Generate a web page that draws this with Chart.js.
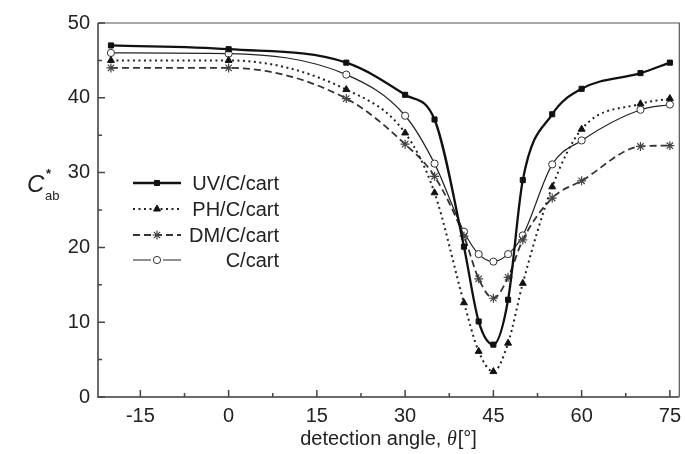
<!DOCTYPE html>
<html>
<head>
<meta charset="utf-8">
<script src="https://cdn.jsdelivr.net/npm/chart.js@4.4.1/dist/chart.umd.min.js"></script>
<style>
  html, body { margin: 0; padding: 0; background: #fff; }
  #wrap { width: 685px; height: 454px; }
</style>
</head>
<body>
<div id="wrap"><canvas id="chart" width="685" height="454"></canvas></div>
<script>
// detection angles (deg) shared by all four series
const angles = [-20, 0, 20, 30, 35, 40, 42.5, 45, 47.5, 50, 55, 60, 70, 75];

// C*ab values
const uvValues = [47.0, 46.5, 44.7, 40.4, 37.1, 20.1, 10.1, 7.0, 13.0, 29.0, 37.8, 41.2, 43.3, 44.7];
const phValues = [45.0, 45.0, 41.1, 35.3, 27.3, 12.6, 6.1, 3.4, 7.2, 15.2, 28.1, 35.8, 39.2, 39.9];
const dmValues = [44.0, 44.0, 39.9, 33.8, 29.5, 21.5, 15.8, 13.2, 16.0, 21.0, 26.6, 28.9, 33.5, 33.6];
const cValues  = [46.0, 45.9, 43.1, 37.6, 31.2, 22.1, 19.1, 18.1, 19.1, 21.6, 31.1, 34.3, 38.4, 39.1];

const seriesNames = ['UV/C/cart', 'PH/C/cart', 'DM/C/cart', 'C/cart'];

const xTicks = [-15, 0, 15, 30, 45, 60, 75];
const xMinorTicks = [-7.5, 7.5, 22.5, 37.5, 52.5, 67.5];
const yTicks = [0, 10, 20, 30, 40, 50];
const yMinorTicks = [5, 15, 25, 35, 45];

const FONT = '"Liberation Sans", Arial, sans-serif';

const toPoints = (vals) => angles.map((a, i) => ({ x: a, y: vals[i] }));

// frame + inward ticks + axis titles
const framePlugin = {
    id: 'frame',
    afterDraw(chart) {
        const ctx = chart.ctx;
        const { left, right, top, bottom } = chart.chartArea;
        const xs = chart.scales.x, ys = chart.scales.y;
        ctx.save();

        // top and right frame
        ctx.strokeStyle = '#555';
        ctx.lineWidth = 1.2;
        ctx.beginPath();
        ctx.moveTo(left, top); ctx.lineTo(right, top); ctx.lineTo(right, bottom);
        ctx.stroke();

        // left and bottom axes
        ctx.strokeStyle = '#6a6a6a';
        ctx.lineWidth = 2;
        ctx.beginPath();
        ctx.moveTo(left, top); ctx.lineTo(left, bottom); ctx.lineTo(right, bottom);
        ctx.stroke();

        ctx.lineWidth = 1.5;
        ctx.strokeStyle = '#444';
        ctx.beginPath();
        xTicks.forEach(v => { const p = xs.getPixelForValue(v); ctx.moveTo(p, bottom); ctx.lineTo(p, bottom - 7); });
        xMinorTicks.forEach(v => { const p = xs.getPixelForValue(v); ctx.moveTo(p, bottom); ctx.lineTo(p, bottom - 4); });
        yTicks.forEach(v => { const p = ys.getPixelForValue(v); ctx.moveTo(left, p); ctx.lineTo(left + 7, p); });
        yMinorTicks.forEach(v => { const p = ys.getPixelForValue(v); ctx.moveTo(left, p); ctx.lineTo(left + 4, p); });
        ctx.stroke();

        // x title: detection angle, θ[°]
        ctx.fillStyle = '#222';
        ctx.textBaseline = 'alphabetic';
        const part1 = 'detection angle, ';
        const part2 = 'θ';
        const part3 = '[°]';
        const serif = 'italic 20px "Liberation Serif", "Times New Roman", serif';
        ctx.font = '20px ' + FONT;
        const w1 = ctx.measureText(part1).width;
        const w3 = ctx.measureText(part3).width;
        ctx.font = serif;
        const w2 = ctx.measureText(part2).width;
        const x0 = 388 - (w1 + w2 + w3) / 2;
        const yb = 445;
        ctx.font = '20px ' + FONT;
        ctx.fillText(part1, x0, yb);
        ctx.font = serif;
        ctx.fillText(part2, x0 + w1, yb);
        ctx.font = '20px ' + FONT;
        ctx.fillText(part3, x0 + w1 + w2 + 1, yb);

        // y title: C*ab
        ctx.font = 'italic 24px ' + FONT;
        ctx.fillText('C', 27, 192);
        ctx.font = 'bold 13px ' + FONT;
        ctx.fillText('*', 46, 178);
        ctx.font = '13px ' + FONT;
        ctx.fillText('ab', 45, 200);

        ctx.restore();
    }
};

// in-plot legend: line sample with marker, right aligned labels
const legendPlugin = {
    id: 'inLegend',
    afterDatasetsDraw(chart) {
        const ctx = chart.ctx;
        const rows = [183, 209, 235, 260];
        ctx.save();
        chart.data.datasets.forEach((ds, i) => {
            const y = rows[i];
            ctx.strokeStyle = ds.borderColor;
            ctx.lineWidth = ds.borderWidth;
            ctx.setLineDash(ds.borderDash || []);
            ctx.beginPath();
            ctx.moveTo(133, y); ctx.lineTo(181, y);
            ctx.stroke();
            ctx.setLineDash([]);
            if (ds.pointStyle === 'circle') {
                ctx.fillStyle = '#fff';
                ctx.fillRect(151, y - 4, 12, 8);
            }
            ctx.fillStyle = ds.pointBackgroundColor;
            ctx.strokeStyle = ds.pointBorderColor;
            ctx.lineWidth = ds.pointBorderWidth;
            Chart.helpers.drawPoint(ctx, {
                pointStyle: ds.pointStyle,
                radius: ds.pointRadius,
                borderWidth: ds.pointBorderWidth,
                rotation: 0
            }, 157, y);
            ctx.fillStyle = '#222';
            ctx.font = '20px ' + FONT;
            ctx.textAlign = 'right';
            ctx.textBaseline = 'middle';
            ctx.fillText(ds.label, 279, y + 1);
        });
        ctx.restore();
    }
};

new Chart(document.getElementById('chart'), {
    type: 'line',
    data: {
        datasets: [
            {
                label: seriesNames[0],
                data: toPoints(uvValues),
                borderColor: '#111',
                borderWidth: 2.3,
                pointStyle: 'rect',
                pointRadius: 3.6,
                pointBackgroundColor: '#111',
                pointBorderColor: '#111',
                pointBorderWidth: 1
            },
            {
                label: seriesNames[1],
                data: toPoints(phValues),
                borderColor: '#222',
                borderWidth: 2,
                borderDash: [2, 3.5],
                pointStyle: 'triangle',
                pointRadius: 4,
                pointBackgroundColor: '#111',
                pointBorderColor: '#111',
                pointBorderWidth: 1
            },
            {
                label: seriesNames[2],
                data: toPoints(dmValues),
                borderColor: '#333',
                borderWidth: 1.8,
                borderDash: [7, 4],
                pointStyle: 'star',
                pointRadius: 4.5,
                pointBackgroundColor: '#444',
                pointBorderColor: '#444',
                pointBorderWidth: 1.2
            },
            {
                label: seriesNames[3],
                data: toPoints(cValues),
                borderColor: '#222',
                borderWidth: 1.2,
                pointStyle: 'circle',
                pointRadius: 3.6,
                pointBackgroundColor: '#fff',
                pointBorderColor: '#333',
                pointBorderWidth: 1
            }
        ]
    },
    options: {
        responsive: false,
        devicePixelRatio: 1,
        animation: false,
        cubicInterpolationMode: 'monotone',
        layout: { padding: { top: 23, right: 2, left: 0, bottom: 0 } },
        plugins: {
            legend: { display: false },
            tooltip: { enabled: false }
        },
        scales: {
            x: {
                type: 'linear',
                min: -22.2,
                max: 76.6,
                grid: { display: false, drawTicks: false },
                border: { display: false },
                afterBuildTicks: (scale) => { scale.ticks = xTicks.map(v => ({ value: v })); },
                afterFit: (scale) => {
                    scale.height = 57;
                    scale.paddingLeft = 0;
                    scale.paddingRight = 0;
                },
                ticks: {
                    padding: 7,
                    color: '#222',
                    font: { family: FONT, size: 20 },
                    maxRotation: 0
                }
            },
            y: {
                min: 0,
                max: 50,
                grid: { display: false, drawTicks: false },
                border: { display: false },
                afterBuildTicks: (scale) => { scale.ticks = yTicks.map(v => ({ value: v })); },
                afterFit: (scale) => {
                    scale.width = 98;
                    scale.paddingTop = 0;
                    scale.paddingBottom = 0;
                },
                ticks: {
                    padding: 8,
                    color: '#222',
                    font: { family: FONT, size: 20 }
                }
            }
        }
    },
    plugins: [framePlugin, legendPlugin]
});
</script>
</body>
</html>
